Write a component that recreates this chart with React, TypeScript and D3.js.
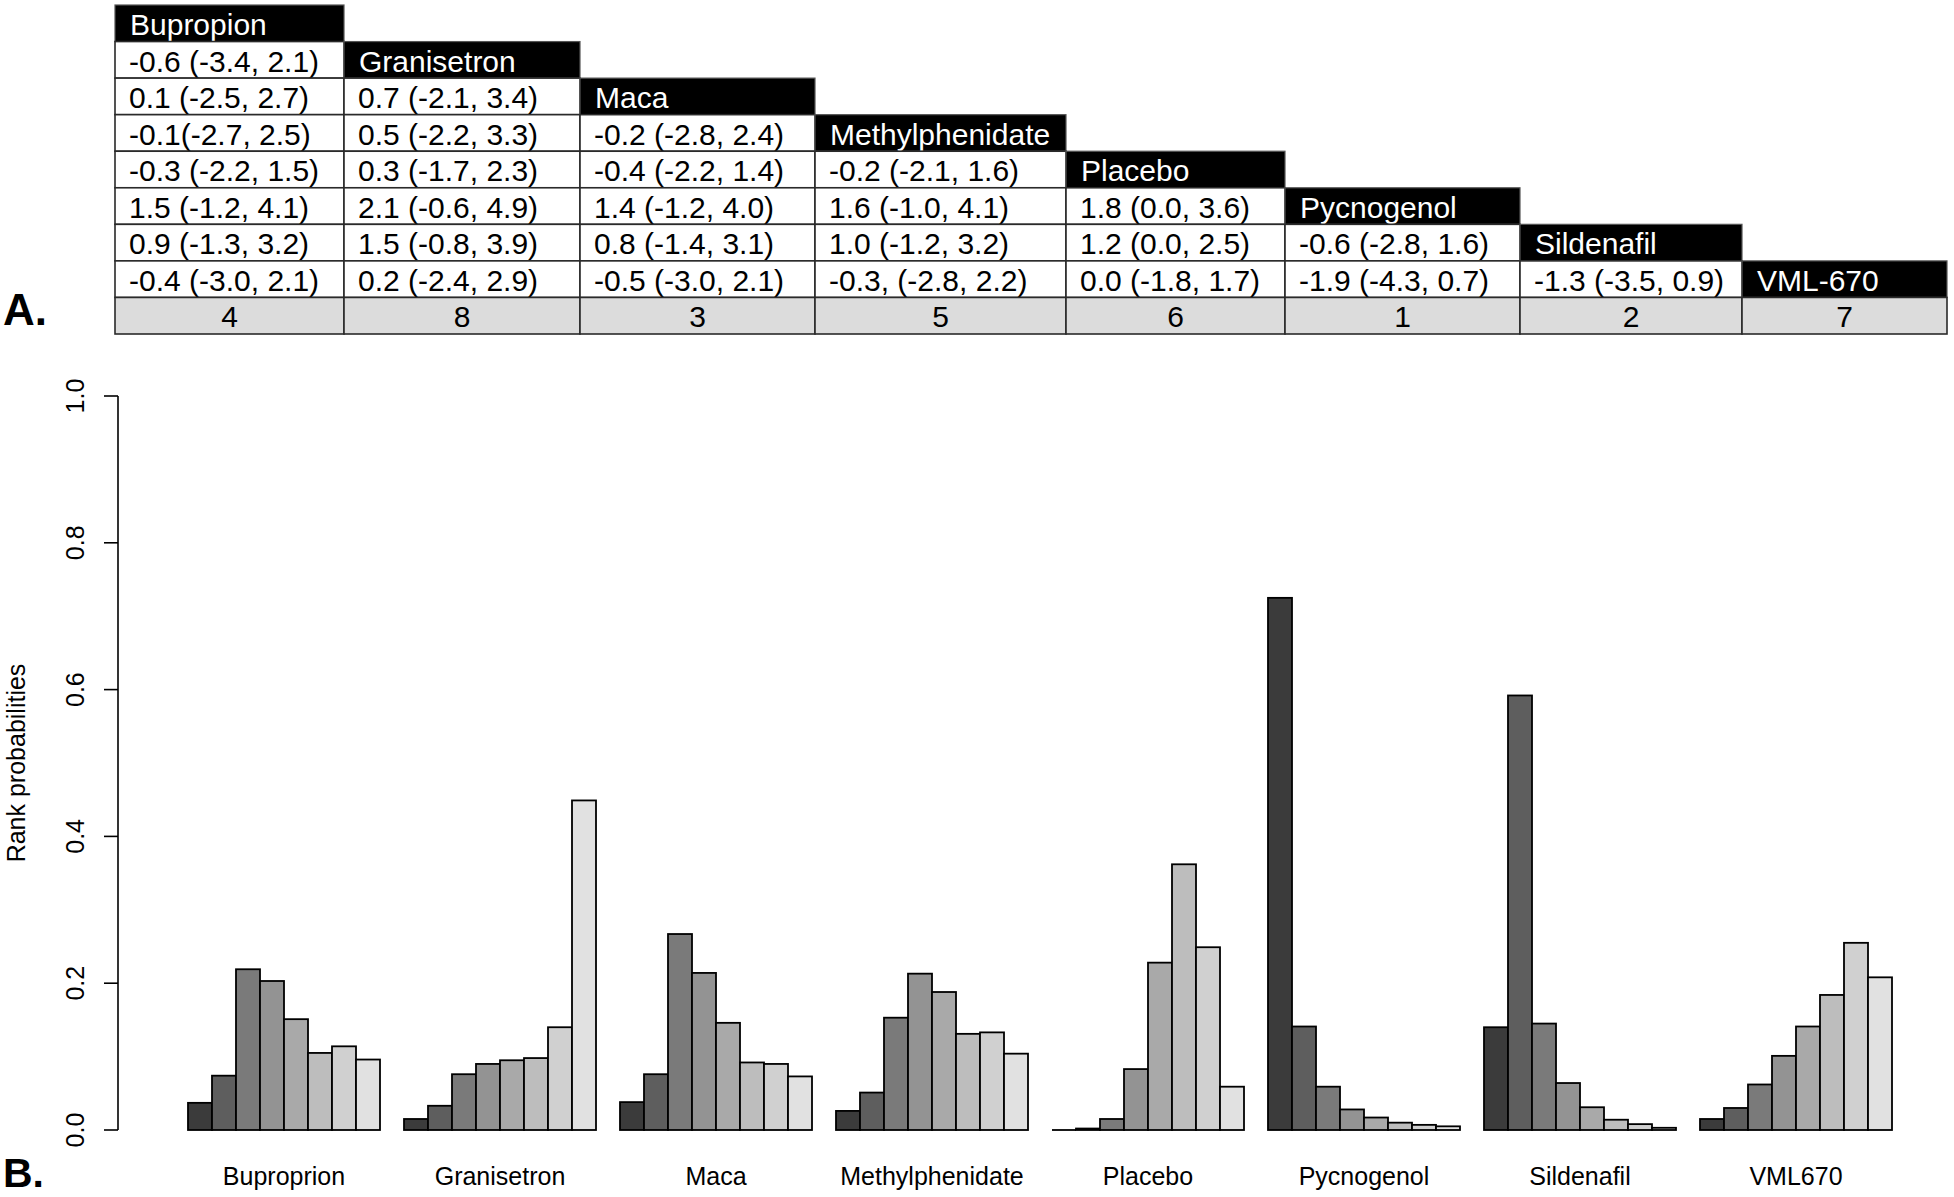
import React from "react";
import * as d3 from "d3";

// ---------- Data ----------
const treatments = ["Bupropion", "Granisetron", "Maca", "Methylphenidate", "Placebo", "Pycnogenol", "Sildenafil", "VML-670"];
const rankLabels = ["4", "8", "3", "5", "6", "1", "2", "7"];

// league table: column j lists comparisons for rows j+1 .. 7
const colBupropion = ["-0.6 (-3.4, 2.1)", "0.1 (-2.5, 2.7)", "-0.1(-2.7, 2.5)", "-0.3 (-2.2, 1.5)", "1.5 (-1.2, 4.1)", "0.9 (-1.3, 3.2)", "-0.4 (-3.0, 2.1)"];
const colGranisetron = ["0.7 (-2.1, 3.4)", "0.5 (-2.2, 3.3)", "0.3 (-1.7, 2.3)", "2.1 (-0.6, 4.9)", "1.5 (-0.8, 3.9)", "0.2 (-2.4, 2.9)"];
const colMaca = ["-0.2 (-2.8, 2.4)", "-0.4 (-2.2, 1.4)", "1.4 (-1.2, 4.0)", "0.8 (-1.4, 3.1)", "-0.5 (-3.0, 2.1)"];
const colMethylphenidate = ["-0.2 (-2.1, 1.6)", "1.6 (-1.0, 4.1)", "1.0 (-1.2, 3.2)", "-0.3, (-2.8, 2.2)"];
const colPlacebo = ["1.8 (0.0, 3.6)", "1.2 (0.0, 2.5)", "0.0 (-1.8, 1.7)"];
const colPycnogenol = ["-0.6 (-2.8, 1.6)", "-1.9 (-4.3, 0.7)"];
const colSildenafil = ["-1.3 (-3.5, 0.9)"];
const colVML = [];
const tableColumns = [colBupropion, colGranisetron, colMaca, colMethylphenidate, colPlacebo, colPycnogenol, colSildenafil, colVML];

// rank probability bar chart
const groups = ["Buproprion", "Granisetron", "Maca", "Methylphenidate", "Placebo", "Pycnogenol", "Sildenafil", "VML670"];
const rankKeys = ["1", "2", "3", "4", "5", "6", "7", "8"];
const probBuproprion = [0.037, 0.074, 0.219, 0.203, 0.151, 0.105, 0.114, 0.096];
const probGranisetron = [0.015, 0.033, 0.076, 0.090, 0.095, 0.098, 0.140, 0.449];
const probMaca = [0.038, 0.076, 0.267, 0.214, 0.146, 0.092, 0.090, 0.073];
const probMethylphenidate = [0.026, 0.051, 0.153, 0.213, 0.188, 0.131, 0.133, 0.104];
const probPlacebo = [0.000, 0.002, 0.015, 0.083, 0.228, 0.362, 0.249, 0.059];
const probPycnogenol = [0.725, 0.141, 0.059, 0.028, 0.017, 0.010, 0.007, 0.005];
const probSildenafil = [0.140, 0.592, 0.145, 0.064, 0.031, 0.014, 0.008, 0.003];
const probVML670 = [0.015, 0.030, 0.062, 0.101, 0.141, 0.184, 0.255, 0.208];
const probs = [probBuproprion, probGranisetron, probMaca, probMethylphenidate, probPlacebo, probPycnogenol, probSildenafil, probVML670];
const yTicks = [0, 0.2, 0.4, 0.6, 0.8, 1.0];
const grays = ["#3b3b3b", "#5e5e5e", "#7a7a7a", "#939393", "#a9a9a9", "#bdbdbd", "#d0d0d0", "#e1e1e1"];

// ---------- Layout ----------
const W = 1954, H = 1197;
const FONT = "'Liberation Sans', Arial, Helvetica, sans-serif";
const colEdges = [115, 344, 580, 815, 1066, 1285, 1520, 1742, 1947];
const tableTop = 5, tableBottom = 334;

export default function App() {
  const nRows = 9;
  const rowY = d3.scaleLinear().domain([0, nRows]).range([tableTop, tableBottom]);
  const rowH = rowY(1) - rowY(0);

  const x = d3.scaleBand().domain(groups).range([188, 1892]).paddingInner(1 / 9).paddingOuter(0);
  const xi = d3.scaleBand().domain(rankKeys).range([0, x.bandwidth()]).padding(0);
  const y = d3.scaleLinear().domain([0, 1]).range([1130, 396]);
  const axisX = 118;

  const cells = [];
  tableColumns.forEach((col, j) => {
    const x0 = colEdges[j], x1 = colEdges[j + 1];
    cells.push(
      <g key={`h${j}`}>
        <rect x={x0} y={rowY(j)} width={x1 - x0} height={rowH} fill="#000" stroke="#555" strokeWidth={1.2} />
        <text x={x0 + 15} y={rowY(j) + 30} fill="#fff" fontSize={30}>{treatments[j]}</text>
      </g>
    );
    col.forEach((v, k) => {
      const r = j + 1 + k;
      cells.push(
        <g key={`c${j}_${k}`}>
          <rect x={x0} y={rowY(r)} width={x1 - x0} height={rowH} fill="#fff" stroke="#2a2a2a" strokeWidth={1.6} />
          <text x={x0 + 14} y={rowY(r) + 30} fill="#000" fontSize={30}>{v}</text>
        </g>
      );
    });
    cells.push(
      <g key={`r${j}`}>
        <rect x={x0} y={rowY(8)} width={x1 - x0} height={rowH} fill="#dcdcdc" stroke="#2a2a2a" strokeWidth={1.6} />
        <text x={(x0 + x1) / 2} y={rowY(8) + 30} fill="#000" fontSize={30} textAnchor="middle">{rankLabels[j]}</text>
      </g>
    );
  });

  return (
    <svg width={W} height={H} style={{ position: "absolute", left: 0, top: 0, background: "#fff" }} fontFamily={FONT}>
      <rect x={0} y={0} width={W} height={H} fill="#fff" />
      {cells}
      <text x={3} y={325} fontSize={44} fontWeight="bold">A.</text>

      {/* y axis */}
      <line x1={axisX} x2={axisX} y1={y(0)} y2={y(1)} stroke="#000" strokeWidth={1.6} />
      {yTicks.map((t) => (
        <g key={t}>
          <line x1={axisX - 14} x2={axisX} y1={y(t)} y2={y(t)} stroke="#000" strokeWidth={1.6} />
          <text transform={`translate(${84},${y(t)}) rotate(-90)`} textAnchor="middle" fontSize={25}>{t.toFixed(1)}</text>
        </g>
      ))}
      <text transform={`translate(${25},${(y(0) + y(1)) / 2}) rotate(-90)`} textAnchor="middle" fontSize={25}>Rank probabilities</text>

      {/* bars */}
      {groups.map((g, gi) => (
        <g key={g} transform={`translate(${x(g)},0)`}>
          {probs[gi].map((v, k) => {
            const bx = xi(rankKeys[k]);
            const bh = y(0) - y(v);
            return bh < 0.5 ? (
              <line key={k} x1={bx} x2={bx + xi.bandwidth()} y1={y(0)} y2={y(0)} stroke="#000" strokeWidth={1.8} />
            ) : (
              <rect key={k} x={bx} y={y(v)} width={xi.bandwidth()} height={bh}
                fill={grays[k]} stroke="#000" strokeWidth={1.8} />
            );
          })}
          <text x={x.bandwidth() / 2} y={1185} textAnchor="middle" fontSize={25}>{g}</text>
        </g>
      ))}
      <text x={3} y={1187} fontSize={41} fontWeight="bold">B.</text>
    </svg>
  );
}
